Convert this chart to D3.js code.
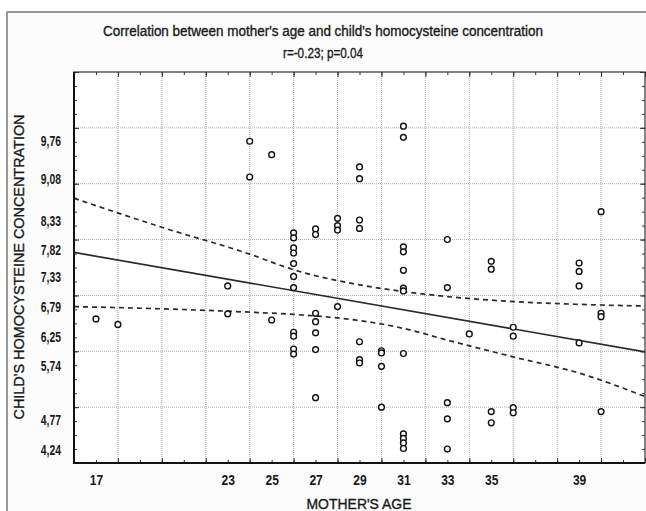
<!DOCTYPE html>
<html>
<head>
<meta charset="utf-8">
<script src="https://cdn.jsdelivr.net/npm/d3@7"></script>
<style>
  body { margin: 0; background: #fff; }
  text { font-family: "Liberation Sans", Arial, sans-serif; fill: #1a1a1a; }
</style>
</head>
<body>
<svg id="chart" width="646" height="511"></svg>
<script>
// mother's age (years) and child's homocysteine, one entry per point
const ages = [
  17, 18, 23, 23, 24, 24, 25, 25,
  26, 26, 26, 26, 26, 26, 26, 26, 26, 26, 26,
  27, 27, 27, 27, 27, 27, 27,
  28, 28, 28, 28,
  29, 29, 29, 29, 29, 29, 29,
  30, 30, 30, 30,
  31, 31, 31, 31, 31, 31, 31, 31, 31, 31, 31, 31,
  33, 33, 33, 33, 33,
  34,
  35, 35, 35, 35,
  36, 36, 36, 36,
  39, 39, 39, 39,
  40, 40, 40, 40
];
const homocysteine = [
  6.58, 6.48, 7.17, 6.67, 9.76, 9.12, 9.52, 6.56,
  8.12, 8.03, 7.85, 7.76, 7.57, 7.34, 7.14, 6.34, 6.27, 6.04, 5.95,
  8.19, 8.09, 6.68, 6.53, 6.33, 6.03, 5.17,
  8.38, 8.25, 8.17, 6.80,
  9.30, 9.09, 8.35, 8.20, 6.17, 5.85, 5.79,
  6.01, 5.97, 5.73, 5.00,
  10.03, 9.83, 7.87, 7.78, 7.45, 7.13, 7.08, 5.96, 4.52, 4.44, 4.36, 4.26,
  8.00, 7.14, 5.08, 4.79, 4.25,
  6.31,
  7.61, 7.47, 4.92, 4.72,
  6.43, 6.27, 4.99, 4.90,
  7.58, 7.43, 7.17, 6.15,
  8.50, 6.68, 6.62, 4.92
];

// fitted line and confidence band
const fitAge = [16, 42];
const fitValue = [7.77, 5.99];
const bandAge = [16, 20, 24, 26, 29, 31, 33, 36, 39, 42];
const bandUpper = [8.74, 8.22, 7.74, 7.46, 7.19, 7.07, 6.98, 6.89, 6.84, 6.81];
const bandLower = [6.80, 6.76, 6.70, 6.66, 6.55, 6.41, 6.20, 5.90, 5.61, 5.19];

const xLabels = [17, 23, 25, 27, 29, 31, 33, 35, 39];
const yLabels = [9.76, 9.08, 8.33, 7.82, 7.33, 6.79, 6.25, 5.74, 4.77, 4.24];

const titleText = "Correlation between mother's age and child's homocysteine concentration";
const subtitleText = "r=-0.23; p=0.04";

const plot = {left: 74, right: 645, top: 72, bottom: 463};

const svg = d3.select("#chart");

const x = d3.scaleLinear().domain([16, 42]).range([plot.left, plot.right]);
const y = d3.scaleLinear().domain([4, 11]).range([plot.bottom, plot.top]);

// squeeze text horizontally, the original font is a narrow one
function condense(sel, f) {
  sel.each(function() {
    const w = this.getComputedTextLength();
    d3.select(this).attr("textLength", w * f).attr("lengthAdjust", "spacingAndGlyphs");
  });
}

// outer frame
svg.append("rect")
  .attr("x", 7).attr("y", 12)
  .attr("width", 646).attr("height", 510)
  .attr("fill", "#fcfcfc")
  .attr("stroke", "#7a7a7a")
  .attr("stroke-width", 1.5);

svg.append("rect")
  .attr("x", plot.left).attr("y", plot.top)
  .attr("width", plot.right - plot.left).attr("height", plot.bottom - plot.top)
  .attr("fill", "#fff");

// grid
const grid = svg.append("g").attr("stroke", "#aaa").attr("stroke-dasharray", "1,1");
grid.selectAll(".vg")
  .data(d3.range(18, 41, 2))
  .join("line")
  .attr("x1", d => x(d)).attr("x2", d => x(d))
  .attr("y1", plot.top).attr("y2", plot.bottom);
grid.selectAll(".hg")
  .data(d3.range(5, 11, 1))
  .join("line")
  .attr("x1", plot.left).attr("x2", plot.right)
  .attr("y1", d => y(d)).attr("y2", d => y(d));

// inside ticks on all four sides
function tickAxis(axis, values, size, transform) {
  const g = svg.append("g")
    .attr("transform", transform)
    .call(axis.tickValues(values).tickSize(size).tickFormat(""));
  g.select(".domain").remove();
  g.selectAll("line").attr("stroke", "#333");
}
const yearTicks = d3.range(16, 43, 1);
const evenYears = d3.range(16, 43, 2);
const quarterTicks = d3.range(4, 11.01, 0.25);
const unitTicks = d3.range(4, 12, 1);

tickAxis(d3.axisBottom(x), yearTicks, -3, `translate(0,${plot.bottom})`);
tickAxis(d3.axisBottom(x), evenYears, -5, `translate(0,${plot.bottom})`);
tickAxis(d3.axisTop(x), yearTicks, -3, `translate(0,${plot.top})`);
tickAxis(d3.axisTop(x), evenYears, -5, `translate(0,${plot.top})`);
tickAxis(d3.axisLeft(y), quarterTicks, -3, `translate(${plot.left},0)`);
tickAxis(d3.axisLeft(y), unitTicks, -5, `translate(${plot.left},0)`);
tickAxis(d3.axisRight(y), quarterTicks, -3, `translate(${plot.right},0)`);
tickAxis(d3.axisRight(y), unitTicks, -5, `translate(${plot.right},0)`);

// tick labels
const xAxis = svg.append("g")
  .attr("transform", `translate(0,${plot.bottom})`)
  .call(d3.axisBottom(x).tickValues(xLabels).tickSize(0).tickPadding(12).tickFormat(d3.format("d")));
xAxis.select(".domain").remove();
xAxis.selectAll("text").attr("font-size", 14).attr("font-weight", "bold")
  .style("font-family", "Liberation Sans, Arial, sans-serif").attr("fill", "#222");
condense(xAxis.selectAll("text"), 0.86);

const yAxis = svg.append("g")
  .attr("transform", `translate(${plot.left},0)`)
  .call(d3.axisLeft(y).tickValues(yLabels).tickSize(0).tickPadding(13)
    .tickFormat(d => d.toFixed(2).replace(".", ",")));
yAxis.select(".domain").remove();
yAxis.selectAll("text").attr("font-size", 14).attr("font-weight", "bold")
  .style("font-family", "Liberation Sans, Arial, sans-serif").attr("fill", "#222");
condense(yAxis.selectAll("text"), 0.74);

// fitted line and confidence band
const fitLine = d3.line().x(d => x(d[0])).y(d => y(d[1]));
const bandLine = d3.line().x(d => x(d[0])).y(d => y(d[1])).curve(d3.curveMonotoneX);

svg.append("clipPath").attr("id", "plotclip")
  .append("rect")
  .attr("x", plot.left).attr("y", plot.top)
  .attr("width", plot.right - plot.left).attr("height", plot.bottom - plot.top);

const lines = svg.append("g").attr("clip-path", "url(#plotclip)")
  .attr("fill", "none").attr("stroke", "#2a2a2a").attr("stroke-width", 1.7);

lines.append("path").attr("d", fitLine(fitAge.map((a, i) => [a, fitValue[i]])));
lines.append("path").attr("stroke-dasharray", "5,4")
  .attr("d", bandLine(bandAge.map((a, i) => [a, bandUpper[i]])));
lines.append("path").attr("stroke-dasharray", "5,4")
  .attr("d", bandLine(bandAge.map((a, i) => [a, bandLower[i]])));

// points
svg.append("g")
  .selectAll("circle")
  .data(ages.map((a, i) => ({age: a, value: homocysteine[i]})))
  .join("circle")
  .attr("cx", d => x(d.age))
  .attr("cy", d => y(d.value))
  .attr("r", 2.9)
  .attr("fill", "#fff")
  .attr("stroke", "#111")
  .attr("stroke-width", 1.4);

// plot border
svg.append("rect")
  .attr("x", plot.left).attr("y", plot.top)
  .attr("width", plot.right - plot.left).attr("height", plot.bottom - plot.top)
  .attr("fill", "none").attr("stroke", "#333").attr("stroke-width", 1.2);
svg.append("path")
  .attr("d", `M${plot.left},${plot.top}V${plot.bottom}H${plot.right}`)
  .attr("fill", "none").attr("stroke", "#111").attr("stroke-width", 2);

// titles
const titles = svg.append("g").attr("stroke", "#1a1a1a").attr("stroke-width", 0.35);

titles.append("text")
  .attr("x", 323).attr("y", 36)
  .attr("text-anchor", "middle")
  .attr("font-size", 14)
  .attr("textLength", 440).attr("lengthAdjust", "spacingAndGlyphs")
  .text(titleText);

titles.append("text")
  .attr("x", 323).attr("y", 58)
  .attr("text-anchor", "middle")
  .attr("font-size", 14)
  .attr("textLength", 80).attr("lengthAdjust", "spacingAndGlyphs")
  .text(subtitleText);

titles.append("text")
  .attr("transform", "translate(24,267) rotate(-90)")
  .attr("text-anchor", "middle")
  .attr("font-size", 14)
  .attr("textLength", 305).attr("lengthAdjust", "spacingAndGlyphs")
  .text("CHILD'S HOMOCYSTEINE CONCENTRATION");

titles.append("text")
  .attr("x", 359).attr("y", 509)
  .attr("text-anchor", "middle")
  .attr("font-size", 14)
  .attr("textLength", 105).attr("lengthAdjust", "spacingAndGlyphs")
  .text("MOTHER'S AGE");
</script>
</body>
</html>
